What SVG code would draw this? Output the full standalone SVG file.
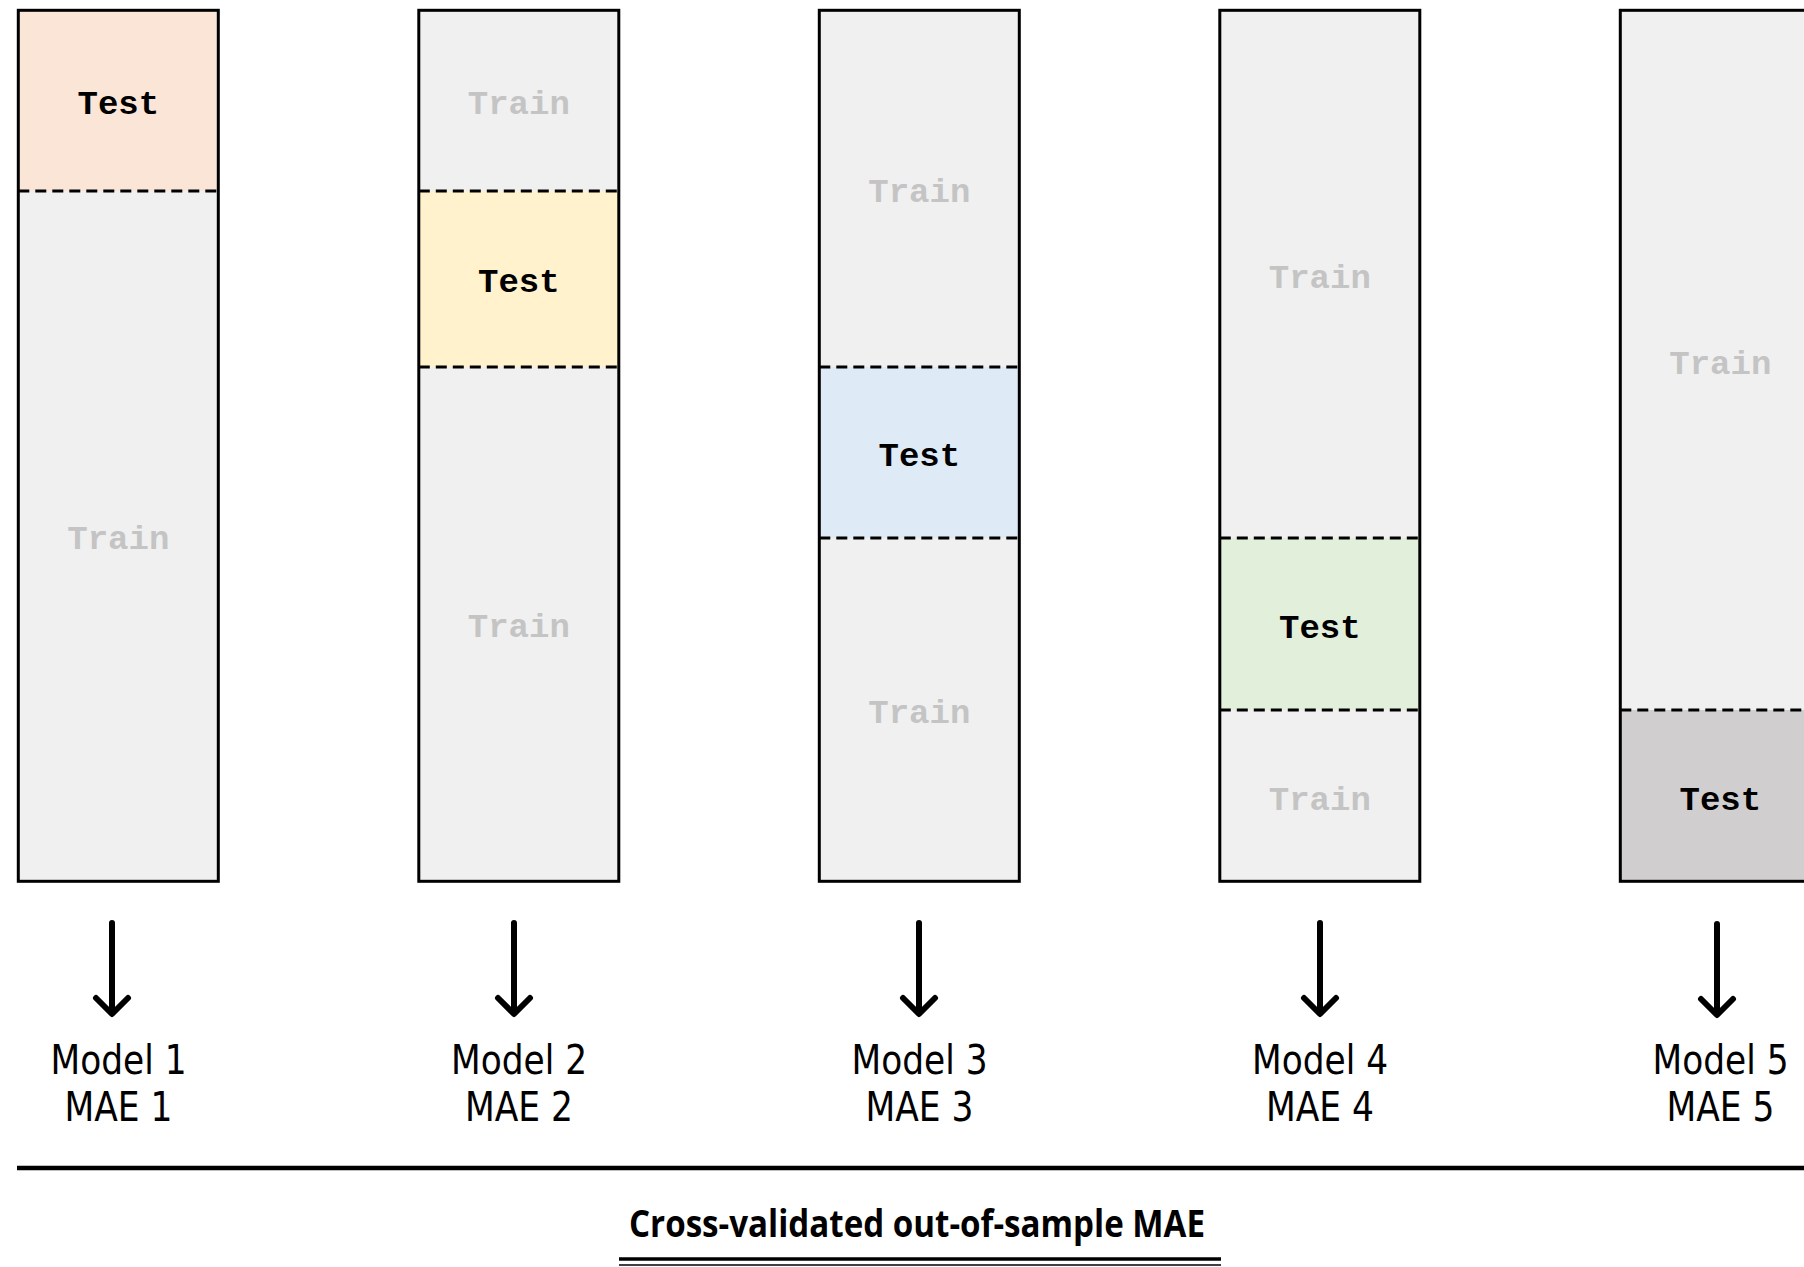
<svg xmlns="http://www.w3.org/2000/svg" width="1804" height="1267" viewBox="0 0 1804 1267">
  <style>
    .seg { stroke: none; }
    .train { fill: #f0f0f0; }
    .frame { fill: none; stroke: #000; stroke-width: 3; }
    .cut { stroke: #000; stroke-width: 3; stroke-dasharray: 11 6; }
    .lbl-test { font-family: "Courier New", "Nimbus Mono PS", "FreeMono", "Liberation Mono", monospace; font-weight: bold; font-size: 34px; fill: #000; text-anchor: middle; }
    .lbl-train { font-family: "Courier New", "Nimbus Mono PS", "FreeMono", "Liberation Mono", monospace; font-weight: bold; font-size: 34px; fill: #c4c4c4; text-anchor: middle; }
    .result { font-family: "DejaVu Sans", "Liberation Sans", sans-serif; font-size: 40px; fill: #000; text-anchor: middle; }
    .arrow { fill: none; stroke: #000; stroke-width: 6; stroke-linecap: round; stroke-linejoin: round; }
    .title { font-family: "Open Sans", "Liberation Sans", sans-serif; font-weight: bold; font-size: 37px; fill: #000; text-anchor: middle; }
  </style>
  <rect width="1804" height="1267" fill="#fff"/>

  <!-- Fold 1 -->
  <g id="fold1">
    <rect class="seg" x="18.3" y="10.3" width="200" height="180.7" fill="#fbe5d6"/>
    <rect class="seg train" x="18.3" y="191" width="200" height="690"/>
    <line class="cut" x1="18.3" y1="191" x2="218.3" y2="191"/>
    <rect class="frame" x="18.3" y="10.3" width="200" height="871"/>
    <text class="lbl-test" x="118.3" y="114">Test</text>
    <text class="lbl-train" x="118.3" y="549">Train</text>
  </g>

  <!-- Fold 2 -->
  <g id="fold2">
    <rect class="seg train" x="418.8" y="10.3" width="200" height="180.7"/>
    <rect class="seg" x="418.8" y="191" width="200" height="176" fill="#fff2cc"/>
    <rect class="seg train" x="418.8" y="367" width="200" height="514"/>
    <line class="cut" x1="418.8" y1="191" x2="618.8" y2="191"/>
    <line class="cut" x1="418.8" y1="367" x2="618.8" y2="367"/>
    <rect class="frame" x="418.8" y="10.3" width="200" height="871"/>
    <text class="lbl-train" x="518.8" y="114">Train</text>
    <text class="lbl-test" x="518.8" y="292">Test</text>
    <text class="lbl-train" x="518.8" y="637">Train</text>
  </g>

  <!-- Fold 3 -->
  <g id="fold3">
    <rect class="seg train" x="819.3" y="10.3" width="200" height="356.7"/>
    <rect class="seg" x="819.3" y="367" width="200" height="171" fill="#deebf7"/>
    <rect class="seg train" x="819.3" y="538" width="200" height="343"/>
    <line class="cut" x1="819.3" y1="367" x2="1019.3" y2="367"/>
    <line class="cut" x1="819.3" y1="538" x2="1019.3" y2="538"/>
    <rect class="frame" x="819.3" y="10.3" width="200" height="871"/>
    <text class="lbl-train" x="919.3" y="202">Train</text>
    <text class="lbl-test" x="919.3" y="466">Test</text>
    <text class="lbl-train" x="919.3" y="723">Train</text>
  </g>

  <!-- Fold 4 -->
  <g id="fold4">
    <rect class="seg train" x="1219.8" y="10.3" width="200" height="527.7"/>
    <rect class="seg" x="1219.8" y="538" width="200" height="172" fill="#e2efda"/>
    <rect class="seg train" x="1219.8" y="710" width="200" height="171"/>
    <line class="cut" x1="1219.8" y1="538" x2="1419.8" y2="538"/>
    <line class="cut" x1="1219.8" y1="710" x2="1419.8" y2="710"/>
    <rect class="frame" x="1219.8" y="10.3" width="200" height="871"/>
    <text class="lbl-train" x="1319.8" y="288">Train</text>
    <text class="lbl-test" x="1319.8" y="638">Test</text>
    <text class="lbl-train" x="1319.8" y="810">Train</text>
  </g>

  <!-- Fold 5 -->
  <g id="fold5">
    <rect class="seg train" x="1620.3" y="10.3" width="200" height="699.7"/>
    <rect class="seg" x="1620.3" y="710" width="200" height="171" fill="#d0cece"/>
    <line class="cut" x1="1620.3" y1="710" x2="1820.3" y2="710"/>
    <rect class="frame" x="1620.3" y="10.3" width="200" height="871"/>
    <text class="lbl-train" x="1720.3" y="374">Train</text>
    <text class="lbl-test" x="1720.3" y="810">Test</text>
  </g>

  <!-- Arrows from each fold to its model -->
  <g id="connectors">
    <path class="arrow" d="M112 923 V1013 M96 998 L112 1014 L128 998"/>
    <path class="arrow" d="M514 923 V1013 M498 998 L514 1014 L530 998"/>
    <path class="arrow" d="M919 923 V1013 M903 998 L919 1014 L935 998"/>
    <path class="arrow" d="M1320 923 V1013 M1304 998 L1320 1014 L1336 998"/>
    <path class="arrow" d="M1717 924 V1014 M1701 999 L1717 1015 L1733 999"/>
  </g>

  <!-- Model results -->
  <g id="model1">
    <text class="result" x="118.5" y="1074" textLength="136" lengthAdjust="spacingAndGlyphs">Model 1</text>
    <text class="result" x="118.5" y="1121" textLength="108" lengthAdjust="spacingAndGlyphs">MAE 1</text>
  </g>
  <g id="model2">
    <text class="result" x="519" y="1074" textLength="136" lengthAdjust="spacingAndGlyphs">Model 2</text>
    <text class="result" x="519" y="1121" textLength="108" lengthAdjust="spacingAndGlyphs">MAE 2</text>
  </g>
  <g id="model3">
    <text class="result" x="919.5" y="1074" textLength="136" lengthAdjust="spacingAndGlyphs">Model 3</text>
    <text class="result" x="919.5" y="1121" textLength="108" lengthAdjust="spacingAndGlyphs">MAE 3</text>
  </g>
  <g id="model4">
    <text class="result" x="1320" y="1074" textLength="136" lengthAdjust="spacingAndGlyphs">Model 4</text>
    <text class="result" x="1320" y="1121" textLength="108" lengthAdjust="spacingAndGlyphs">MAE 4</text>
  </g>
  <g id="model5">
    <text class="result" x="1720.5" y="1074" textLength="136" lengthAdjust="spacingAndGlyphs">Model 5</text>
    <text class="result" x="1720.5" y="1121" textLength="108" lengthAdjust="spacingAndGlyphs">MAE 5</text>
  </g>

  <!-- Summary rule and total -->
  <g id="summary">
    <line x1="17" y1="1168" x2="1804" y2="1168" stroke="#000" stroke-width="4.5"/>
    <text class="title" x="917" y="1237" textLength="576" lengthAdjust="spacingAndGlyphs">Cross-validated out-of-sample MAE</text>
    <line x1="619" y1="1259" x2="1221" y2="1259" stroke="#000" stroke-width="3.5"/>
    <line x1="619" y1="1265" x2="1221" y2="1265" stroke="#000" stroke-width="1.5"/>
  </g>
</svg>
